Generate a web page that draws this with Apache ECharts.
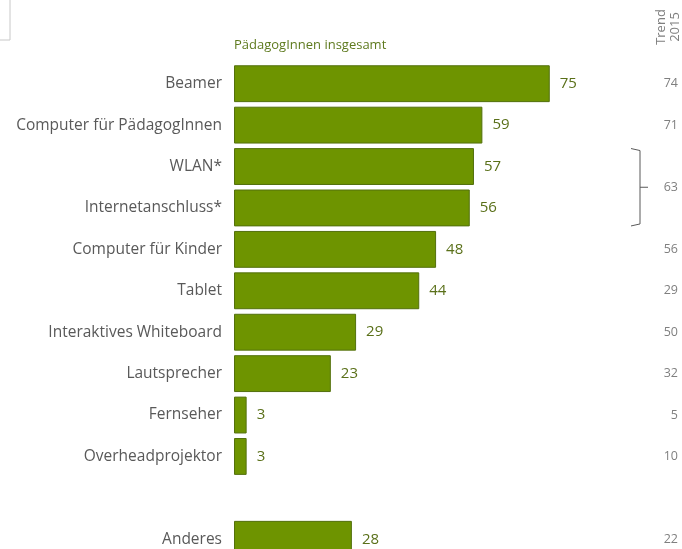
<!DOCTYPE html>
<html>
<head>
<meta charset="utf-8">
<script src="https://cdn.jsdelivr.net/npm/echarts@6/dist/echarts.min.js"></script>
<style>
  html, body { margin: 0; padding: 0; background: #fff; }
  #main { width: 682px; height: 549px; }
</style>
</head>
<body>
<div id="main"></div>
<script>
var categories = ['Beamer', 'Computer für PädagogInnen', 'WLAN*', 'Internetanschluss*',
    'Computer für Kinder', 'Tablet', 'Interaktives Whiteboard', 'Lautsprecher',
    'Fernseher', 'Overheadprojektor', '', 'Anderes'];
var values = [75, 59, 57, 56, 48, 44, 29, 23, 3, 3, null, 28];
// Trend 2015; WLAN and Internet share one value (bracket)
var trendLabels = ['74', '71', '', '', '56', '29', '50', '32', '5', '10', '', '22'];
var trendJoined = '63';

var myChart = echarts.init(document.getElementById('main'));

var fontFam = '"Open Sans", sans-serif';

var option = {
    animation: false,
    grid: {
        left: 234,
        top: 63,
        width: 421,
        height: 497,
        containLabel: false,
        outerBoundsMode: 'none'
    },
    xAxis: {
        type: 'value',
        min: 0,
        max: 100,
        show: false
    },
    yAxis: [{
        type: 'category',
        inverse: true,
        data: categories,
        axisLine: { show: false },
        axisTick: { show: false },
        axisLabel: {
            margin: 12,
            color: '#595959',
            fontSize: 15.5,
            fontFamily: fontFam
        }
    }, {
        type: 'category',
        inverse: true,
        position: 'right',
        data: trendLabels,
        axisLine: { show: false },
        axisTick: { show: false },
        axisLabel: {
            margin: 23,
            align: 'right',
            color: '#7f7f7f',
            fontSize: 12.5,
            fontFamily: fontFam
        }
    }],
    series: [{
        type: 'bar',
        data: values,
        barCategoryGap: '11%',
        itemStyle: {
            color: '#6e9400',
            borderColor: '#53700c',
            borderWidth: 1
        },
        label: {
            show: true,
            position: 'right',
            distance: 10,
            color: '#5a7019',
            fontSize: 15,
            fontFamily: fontFam
        }
    }]
};

myChart.setOption(option);

// bracket + shared trend value for WLAN / Internetanschluss
var yTop = myChart.convertToPixel({ yAxisIndex: 0 }, 'WLAN*');
var yBot = myChart.convertToPixel({ yAxisIndex: 0 }, 'Internetanschluss*');
var half = 18;
var y1 = yTop - half, y2 = yBot + half, yMid = (yTop + yBot) / 2;
var bx = 640;

myChart.setOption({
    graphic: [{
        type: 'polyline',
        shape: { points: [[0, 40], [10, 40], [10, 0]] },
        style: { stroke: '#c8c8c8', lineWidth: 1, fill: null }
    }, {
        type: 'text',
        left: 234,
        top: 39,
        style: {
            text: 'PädagogInnen insgesamt',
            fill: '#5e7a1e',
            fontSize: 13,
            fontFamily: fontFam
        }
    }, {
        type: 'text',
        x: 668,
        y: 27,
        rotation: Math.PI / 2,
        style: {
            text: 'Trend\n2015',
            align: 'center',
            verticalAlign: 'middle',
            fill: '#7f7f7f',
            fontSize: 13,
            lineHeight: 14,
            fontFamily: fontFam
        }
    }, {
        type: 'polyline',
        shape: { points: [[bx - 9, y1], [bx, y1 + 2], [bx, y2 - 2], [bx - 9, y2]] },
        style: { stroke: '#595959', lineWidth: 1, fill: null }
    }, {
        type: 'line',
        shape: { x1: bx, y1: yMid, x2: bx + 8, y2: yMid },
        style: { stroke: '#595959', lineWidth: 1 }
    }, {
        type: 'text',
        x: 678,
        y: yMid,
        style: {
            text: trendJoined,
            align: 'right',
            verticalAlign: 'middle',
            fill: '#7f7f7f',
            fontSize: 12.5,
            fontFamily: fontFam
        }
    }]
});
</script>
</body>
</html>
